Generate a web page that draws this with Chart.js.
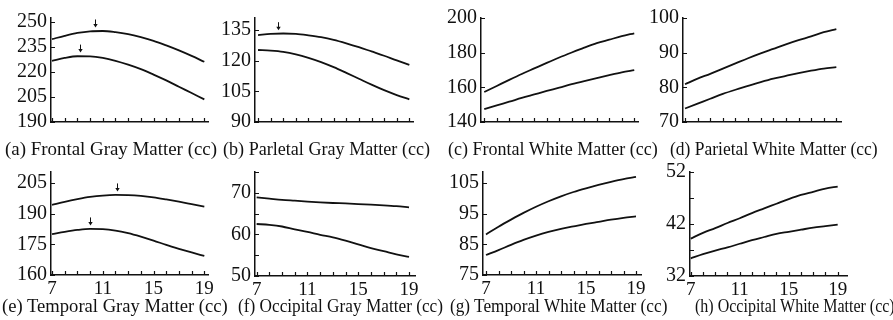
<!DOCTYPE html>
<html><head><meta charset="utf-8">
<script src="https://cdn.jsdelivr.net/npm/chart.js@4.4.0/dist/chart.umd.min.js"></script>
<style>
html,body{margin:0;padding:0;background:#fff;}
#wrap{position:relative;width:893px;height:320px;overflow:hidden;background:#fff;}
.pc{position:absolute;}
.cap{position:absolute;font-family:"Liberation Serif","DejaVu Serif",serif;font-size:19px;color:#111;white-space:nowrap;transform-origin:0 50%;line-height:19px;z-index:5;}
</style></head><body><div id="wrap"></div>
<script>
// ---------- data ----------
const ages = [7,8,9,10,11,12,13,14,15,16,17,18,19];

const frontalGrayUpper   = [239.8,241.8,243.5,244.5,244.7,244.0,242.8,241.0,238.8,236.0,233.0,229.7,226.2];
const frontalGrayLower   = [226.8,228.5,229.5,229.4,228.5,226.8,224.5,221.8,218.5,215.0,211.2,207.4,203.6];
const parietalGrayUpper  = [132.6,133.2,133.4,133.2,132.5,131.6,130.3,128.6,126.7,124.6,122.5,120.2,118.0];
const parietalGrayLower  = [125.3,125.0,124.4,123.2,121.5,119.4,116.9,114.1,111.2,108.3,105.6,103.2,101.1];
const frontalWhiteUpper  = [157.3,160.8,164.3,167.7,170.9,174.1,177.2,180.1,182.9,185.5,187.5,189.5,191.2];
const frontalWhiteLower  = [147.4,149.6,151.7,153.9,155.9,157.9,159.8,161.8,163.6,165.3,167.0,168.6,169.9];
const parietalWhiteUpper = [80.9,82.5,83.9,85.4,86.9,88.4,89.8,91.1,92.4,93.6,94.7,95.9,96.8];
const parietalWhiteLower = [73.9,75.3,76.7,78.1,79.3,80.4,81.5,82.5,83.3,84.1,84.8,85.4,85.8];
const temporalGrayUpper  = [194.2,195.7,197.0,198.1,198.8,199.1,199.0,198.6,197.9,196.9,195.8,194.6,193.4];
const temporalGrayLower  = [180.0,181.1,182.0,182.5,182.4,181.7,180.4,178.7,176.8,174.7,172.8,171.0,169.3];
const occipitalGrayUpper = [68.9,68.6,68.3,68.1,67.9,67.7,67.55,67.45,67.3,67.15,67.0,66.8,66.5];
const occipitalGrayLower = [62.5,62.3,61.9,61.2,60.6,59.9,59.3,58.5,57.6,56.7,56.0,55.2,54.6];
const temporalWhiteUpper = [88.2,90.7,93.0,95.2,97.2,99.0,100.6,102.0,103.2,104.3,105.3,106.2,106.9];
const temporalWhiteLower = [81.5,83.1,84.8,86.4,87.8,89.0,90.0,90.8,91.6,92.3,93.0,93.6,94.1];
const occipitalWhiteUpper= [39.2,40.3,41.2,42.2,43.1,44.1,45.0,45.9,46.8,47.6,48.2,48.8,49.2];
const occipitalWhiteLower= [35.4,36.2,36.9,37.5,38.2,38.9,39.5,40.1,40.5,40.9,41.3,41.6,41.9];

// arrow markers (age, value at curve peak)
const arrowsFrontalGray  = [[10.4,244.7],[9.2,229.6]];
const arrowsParietalGray = [[8.6,133.3]];
const arrowsTemporalGray = [[12.1,199.1],[10.0,182.5]];

const xTickValues  = [7,8,9,10,11,12,13,14,15,16,17,18,19];
const xLabelValues = [7,11,15,19];

const titles = [
  "(a) Frontal Gray Matter (cc)",
  "(b) Parletal Gray Matter (cc)",
  "(c) Frontal White Matter (cc)",
  "(d) Parietal White Matter (cc)",
  "(e) Temporal Gray Matter (cc)",
  "(f) Occipital Gray Matter (cc)",
  "(g) Temporal White Matter (cc)",
  "(h) Occipital White Matter (cc)"
];

const yTicksA = [190,205,220,235,250], yLabelsA = [190,205,220,235,250];
const yTicksB = [90,105,120,135],      yLabelsB = [90,105,120,135];
const yTicksC = [140,160,180,200],     yLabelsC = [140,160,180,200];
const yTicksD = [70,80,90,100],        yLabelsD = [70,80,90,100];
const yTicksE = [160,175,190,205],     yLabelsE = [160,175,190,205];
const yTicksF = [50,55,60,65,70,75],   yLabelsF = [50,60,70];
const yTicksG = [75,85,95,105],        yLabelsG = [75,85,95,105];
const yTicksH = [32,37,42,47,52],      yLabelsH = [32,42,52];

// ---------- layout ----------
const panels = [
  {up:frontalGrayUpper,  lo:frontalGrayLower,  yt:yTicksA, yl:yLabelsA, arrows:arrowsFrontalGray,  L:51, R:208, T:18, B:122, xmin:6.92, xmax:19.29, ymin:190, ymax:252.5, xl:false, cap:[111,148,212]},
  {up:parietalGrayUpper, lo:parietalGrayLower, yt:yTicksB, yl:yLabelsB, arrows:arrowsParietalGray, L:255,R:413, T:18, B:122, xmin:6.76, xmax:19.29, ymin:90,  ymax:141,   xl:false, cap:[326.5,148,207]},
  {up:frontalWhiteUpper, lo:frontalWhiteLower, yt:yTicksC, yl:yLabelsC, arrows:[],                 L:481,R:638, T:18, B:122, xmin:6.74, xmax:19.3,  ymin:140, ymax:200,   xl:false, cap:[553,148,210]},
  {up:parietalWhiteUpper,lo:parietalWhiteLower,yt:yTicksD, yl:yLabelsD, arrows:[],                 L:683,R:841, T:18, B:122, xmin:6.84, xmax:19.37, ymin:70,  ymax:100,   xl:false, cap:[774,148,208]},
  {up:temporalGrayUpper, lo:temporalGrayLower, yt:yTicksE, yl:yLabelsE, arrows:arrowsTemporalGray, L:51, R:208, T:172,B:275, xmin:6.92, xmax:19.29, ymin:160, ymax:210.3, xl:true,  cap:[115,305,226]},
  {up:occipitalGrayUpper,lo:occipitalGrayLower,yt:yTicksF, yl:yLabelsF, arrows:[],                 L:255,R:415, T:172,B:276, xmin:6.87, xmax:19.47, ymin:50,  ymax:75,    xl:true,  cap:[340.5,305,205]},
  {up:temporalWhiteUpper,lo:temporalWhiteLower,yt:yTicksG, yl:yLabelsG, arrows:[],                 L:483,R:641, T:172,B:275, xmin:6.76, xmax:19.4,  ymin:75,  ymax:108.5, xl:true,  cap:[559,305,218]},
  {up:occipitalWhiteUpper,lo:occipitalWhiteLower,yt:yTicksH,yl:yLabelsH,arrows:[],                 L:690,R:847, T:172,B:276, xmin:6.94, xmax:19.76, ymin:32,  ymax:52,    xl:true,  cap:[795,305,200]}
];

Chart.defaults.font.family = '"Liberation Serif","DejaVu Serif",serif';
Chart.defaults.color = '#111';

const innerTicks = {
  id:'innerTicks',
  afterDraw(chart, args, opts){
    const ctx = chart.ctx, xs = chart.scales.x, ys = chart.scales.y, a = chart.chartArea;
    ctx.save();
    ctx.strokeStyle = '#111'; ctx.fillStyle = '#111'; ctx.lineWidth = 1.2;
    ctx.beginPath();
    opts.xt.forEach(v=>{const p=Math.round(xs.getPixelForValue(v))+0.5; ctx.moveTo(p,a.bottom); ctx.lineTo(p,a.bottom-4);});
    opts.yt.forEach(v=>{const p=Math.round(ys.getPixelForValue(v))+0.5; ctx.moveTo(a.left,p); ctx.lineTo(a.left+4,p);});
    ctx.stroke();
    (opts.arrows||[]).forEach(([ax,av])=>{
      const px = Math.round(xs.getPixelForValue(ax))+0.5, py = ys.getPixelForValue(av);
      const tip = py-3.5, tail = tip-8;
      ctx.lineWidth = 1;
      ctx.beginPath(); ctx.moveTo(px,tail); ctx.lineTo(px,tip-2); ctx.stroke();
      ctx.beginPath(); ctx.moveTo(px-2.2,tip-3.5); ctx.lineTo(px,tip); ctx.lineTo(px+2.2,tip-3.5); ctx.closePath(); ctx.fill();
    });
    ctx.restore();
  }
};

const wrap = document.getElementById('wrap');
const YW = 50, PT = 12, PR = 8, XH = 30;

panels.forEach((p, i) => {
  const div = document.createElement('div');
  div.className = 'pc';
  const left = p.L - YW, top = p.T - PT;
  const w = p.R - p.L + YW + PR, h = p.B - p.T + PT + XH;
  div.style.left = left+'px'; div.style.top = top+'px';
  div.style.width = w+'px'; div.style.height = h+'px';
  const cv = document.createElement('canvas');
  cv.width = w; cv.height = h; cv.style.width = w+'px'; cv.style.height = h+'px';
  div.appendChild(cv); wrap.appendChild(div);

  new Chart(cv, {
    type:'line',
    data:{datasets:[
      {data: ages.map((a,k)=>({x:a,y:p.up[k]}))},
      {data: ages.map((a,k)=>({x:a,y:p.lo[k]}))}
    ]},
    options:{
      responsive:false, animation:false, devicePixelRatio:1,
      layout:{padding:{top:PT,right:PR,left:0,bottom:0}},
      plugins:{legend:{display:false}, tooltip:{enabled:false}, title:{display:false},
        innerTicks:{xt:xTickValues, yt:p.yt, arrows:p.arrows}},
      elements:{point:{radius:0}, line:{borderColor:'#111', borderWidth:1.8, cubicInterpolationMode:'monotone', fill:false}},
      scales:{
        x:{type:'linear', min:p.xmin, max:p.xmax,
          afterBuildTicks:s=>{s.ticks = xLabelValues.map(v=>({value:v}));},
          afterFit:s=>{s.height = XH; s.paddingLeft = 0; s.paddingRight = 0;},
          grid:{display:true, drawOnChartArea:false, drawTicks:false},
          border:{display:true, color:'#111', width:1.5},
          ticks:{display:p.xl, autoSkip:false, maxRotation:0, minRotation:0, padding:3, color:'#111', font:{size:19},
            callback:v=>String(v)}},
        y:{type:'linear', min:p.ymin, max:p.ymax,
          afterBuildTicks:s=>{s.ticks = p.yl.map(v=>({value:v}));},
          afterFit:s=>{s.width = YW; s.paddingTop = 0; s.paddingBottom = 0;},
          grid:{display:true, drawOnChartArea:false, drawTicks:false},
          border:{display:true, color:'#111', width:1.5},
          ticks:{autoSkip:false, padding:4, color:'#111', font:{size:20}, callback:v=>String(v)}}
      }
    },
    plugins:[innerTicks]
  });

  // caption (real text)
  const cap = document.createElement('div');
  cap.className = 'cap';
  cap.textContent = titles[i];
  wrap.appendChild(cap);
  const mctx = document.createElement('canvas').getContext('2d');
  mctx.font = '19px "Liberation Serif"';
  const mw = mctx.measureText(titles[i]).width;
  const [cx, cy, tw] = p.cap;
  cap.style.left = (cx - tw/2)+'px';
  cap.style.top = (cy - 9.5)+'px';
  cap.style.transform = 'scaleX(' + (tw/mw).toFixed(4) + ')';
});
</script>
</body></html>
